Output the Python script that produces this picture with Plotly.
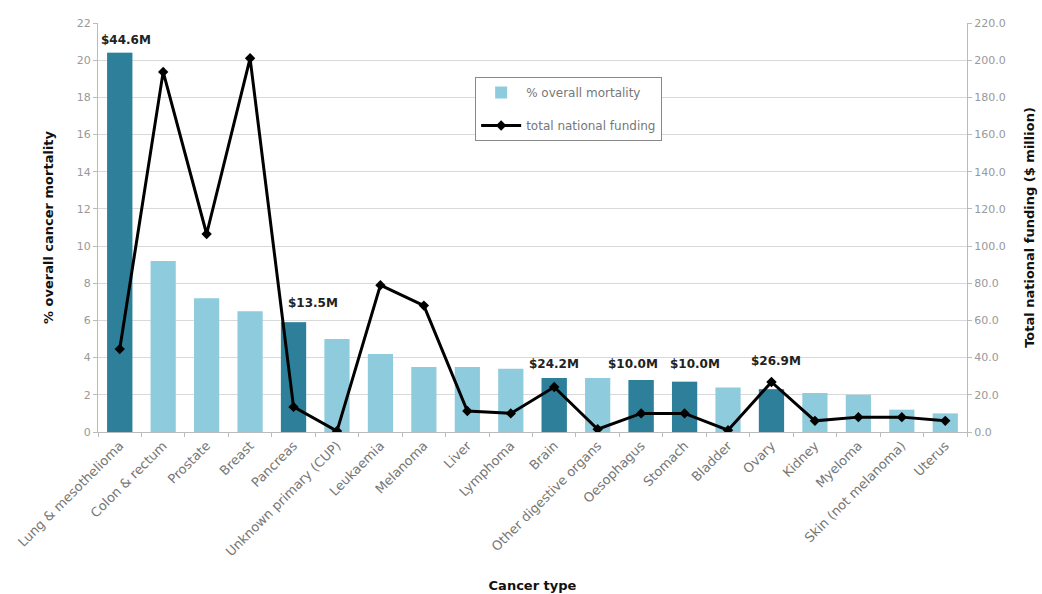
import plotly.graph_objects as go

categories = ["Lung & mesothelioma", "Colon & rectum", "Prostate", "Breast", "Pancreas",
              "Unknown primary (CUP)", "Leukaemia", "Melanoma", "Liver", "Lymphoma", "Brain",
              "Other digestive organs", "Oesophagus", "Stomach", "Bladder", "Ovary", "Kidney",
              "Myeloma", "Skin (not melanoma)", "Uterus"]
mortality = [20.4, 9.2, 7.2, 6.5, 5.9, 5.0, 4.2, 3.5, 3.5, 3.4, 2.9, 2.9, 2.8, 2.7, 2.4, 2.3,
             2.1, 2.0, 1.2, 1.0]
funding = [44.6, 193.7, 106.5, 201.0, 13.5, 0.5, 79.0, 68.0, 11.3, 10.0, 24.2, 1.5, 10.0, 10.0,
           1.0, 26.9, 6.0, 8.0, 8.0, 6.0]
highlighted = ["Lung & mesothelioma", "Pancreas", "Brain", "Oesophagus", "Stomach", "Ovary"]

# label placement offsets (pixels) for the highlighted funding labels
label_shift = {"Lung & mesothelioma": (6, 4), "Pancreas": (19, 10), "Brain": (0, 5),
               "Oesophagus": (-8, 7), "Stomach": (10, 9), "Ovary": (5, 12)}

LIGHT = "#8ecbdc"
DARK = "#2e7f99"
FONT = "DejaVu Sans"

fig = go.Figure()
fig.add_trace(go.Bar(x=categories, y=mortality, name="% overall mortality", legendgroup="a",
                     marker=dict(color=LIGHT, line=dict(width=0)), width=0.58))
hx = [c for c in categories if c in highlighted]
hy = [m for c, m in zip(categories, mortality) if c in highlighted]
fig.add_trace(go.Bar(x=hx, y=hy, showlegend=False,
                     marker=dict(color=DARK, line=dict(width=0)), width=0.58))
fig.add_trace(go.Scatter(x=categories, y=funding, name="total national funding", yaxis="y2",
                         legendgroup="b",
                         mode="lines+markers", line=dict(color="black", width=3),
                         marker=dict(symbol="diamond", size=8, color="black")))

for c, m, f in zip(categories, mortality, funding):
    if c in highlighted:
        top = max(m, f / 10.0)
        dx, dy = label_shift[c]
        fig.add_annotation(x=c, y=top, text=f"<b>${f:.1f}M</b>", showarrow=False,
                           yanchor="bottom", yshift=dy, xshift=dx,
                           font=dict(family=FONT, size=12, color="#222"))

fig.update_layout(
    width=1042, height=594,
    margin=dict(l=98, r=75, t=23, b=162),
    paper_bgcolor="white", plot_bgcolor="white",
    barmode="overlay",
    font=dict(family=FONT, size=11, color="#888"),
    xaxis=dict(range=[-0.5, 19.5], tickangle=-45, showline=True, linecolor="#bbb", ticks="outside",
               tickson="boundaries", ticklen=4, tickcolor="#bbb", automargin=False,
               tickfont=dict(size=13, color="#777"),
               title=dict(text="<b>Cancer type</b>", font=dict(size=13, color="#111"), standoff=22)),
    yaxis=dict(range=[0, 22], dtick=2, showgrid=True, gridcolor="#d9d9d9", gridwidth=1,
               showline=True, linecolor="#bbb", ticks="outside", ticklen=4, tickcolor="#bbb",
               zeroline=False, tickfont=dict(size=11, color="#999"), automargin=False,
               title=dict(text="<b>% overall cancer mortality</b>", font=dict(size=13, color="#111"),
                          standoff=20)),
    yaxis2=dict(range=[0, 220], dtick=20, tickformat=".1f", overlaying="y", side="right",
                showgrid=False, showline=True, linecolor="#bbb", ticks="outside", ticklen=4,
                tickcolor="#bbb", zeroline=False, tickfont=dict(size=11, color="#999"),
                automargin=False,
                title=dict(text="<b>Total national funding ($ million)</b>",
                           font=dict(size=13, color="#111"), standoff=20)),
    legend=dict(x=0.434, y=0.868, xanchor="left", yanchor="top", bordercolor="#888",
                borderwidth=1, bgcolor="white", font=dict(size=12, color="#777"),
                tracegroupgap=14, itemwidth=40),
    showlegend=True,
)

fig.write_html("out.html")
